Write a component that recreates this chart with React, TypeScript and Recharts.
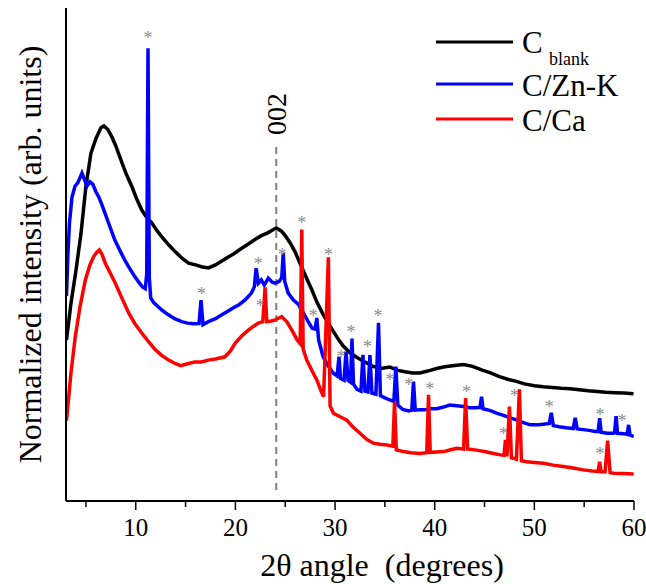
import {
  ComposedChart,
  Line,
  Scatter,
  XAxis,
  YAxis,
  ReferenceLine,
  Legend,
} from "recharts";

const FONT = '"Liberation Serif", "Times New Roman", serif';

// 2theta (deg), normalized intensity (arb. units)
const cBlank: [number, number][] = [
  [3.05, 4.4], [3.5, 5.4], [4.0, 6.3], [4.5, 7.3], [5.0, 8.6], [5.5, 9.5], [6.0, 9.9],
  [6.5, 10.2], [6.8, 10.25], [7.2, 10.15], [7.6, 9.95], [8.0, 9.7], [8.6, 9.25], [9.1, 8.9],
  [9.6, 8.6], [10.1, 8.25], [10.6, 7.95], [11.1, 7.75], [11.6, 7.6], [12.1, 7.4], [12.6, 7.22],
  [13.3, 7.0], [14.0, 6.8], [14.7, 6.62], [15.3, 6.5], [16.0, 6.45], [16.6, 6.4], [17.3, 6.37],
  [18.0, 6.45], [18.6, 6.55], [19.2, 6.65], [19.8, 6.75], [20.6, 6.9], [21.3, 7.02], [22.0, 7.15],
  [22.6, 7.25], [23.2, 7.32], [23.7, 7.4], [24.1, 7.46], [24.6, 7.38], [25.0, 7.25], [25.5, 7.05],
  [26.0, 6.8], [26.6, 6.42], [27.2, 6.05], [27.7, 5.75], [28.2, 5.42], [28.8, 5.1], [29.5, 4.78],
  [30.2, 4.47], [30.8, 4.24], [31.5, 4.05], [32.2, 3.92], [33.0, 3.8], [33.8, 3.68], [34.6, 3.62],
  [35.5, 3.66], [36.3, 3.57], [37.0, 3.53], [37.8, 3.5], [38.5, 3.5], [39.3, 3.55], [40.2, 3.62],
  [41.0, 3.67], [42.0, 3.7], [42.9, 3.73], [43.8, 3.68], [44.7, 3.58], [45.6, 3.5], [46.5, 3.4],
  [47.4, 3.32], [48.2, 3.27], [49.0, 3.2], [50.0, 3.15], [50.9, 3.12], [51.8, 3.1], [52.7, 3.08],
  [53.6, 3.07], [54.5, 3.04], [55.4, 3.01], [56.3, 2.99], [57.2, 2.97], [58.1, 2.96], [59.0, 2.95],
  [59.95, 2.93],
];

const cZnK: [number, number][] = [
  [3.05, 5.6], [3.2, 6.8], [3.35, 7.6], [3.6, 8.3], [3.9, 8.6], [4.2, 8.7], [4.6, 8.96], [4.9, 8.75],
  [5.1, 8.6], [5.4, 8.72], [5.7, 8.65], [6.0, 8.45], [6.3, 8.3], [6.6, 8.1], [6.9, 7.87], [7.4, 7.5],
  [7.9, 7.13], [8.4, 6.85], [8.9, 6.58], [9.4, 6.35], [9.9, 6.13], [10.3, 5.98], [10.7, 5.84],
  [10.95, 5.8], [11.1, 6.2], [11.23, 12.37], [11.36, 6.1], [11.5, 5.55], [11.8, 5.42], [12.2, 5.32],
  [12.6, 5.22], [13.2, 5.1], [13.9, 4.98], [14.6, 4.9], [15.2, 4.86], [15.8, 4.84], [16.35, 4.85],
  [16.55, 5.49], [16.75, 4.82], [17.3, 4.9], [18.0, 4.98], [18.6, 5.08], [19.2, 5.18], [19.8, 5.28],
  [20.4, 5.37], [21.0, 5.5], [21.6, 5.68], [21.9, 5.85], [22.08, 6.36], [22.3, 5.95], [22.6, 6.04],
  [22.9, 5.9], [23.3, 6.09], [23.7, 5.98], [24.0, 5.95], [24.4, 6.0], [24.65, 6.1], [24.8, 6.77],
  [24.95, 6.0], [25.3, 5.68], [25.8, 5.5], [26.3, 5.38], [26.8, 5.15], [27.3, 4.9], [27.7, 4.72],
  [28.0, 4.7], [28.17, 5.0], [28.35, 4.4], [28.8, 3.94], [29.3, 3.7], [29.8, 3.5], [30.2, 3.42],
  [30.4, 3.94], [30.55, 3.35], [30.9, 3.3], [31.1, 4.08], [31.3, 3.3], [31.55, 3.25], [31.7, 4.44],
  [31.85, 3.2], [32.2, 3.05], [32.6, 3.0], [32.8, 3.99], [33.0, 3.0], [33.3, 2.98], [33.5, 3.99],
  [33.7, 2.95], [34.1, 2.92], [34.36, 4.87], [34.55, 2.88], [35.0, 2.82], [35.5, 2.76], [35.9, 2.72],
  [36.1, 3.67], [36.3, 2.62], [36.8, 2.5], [37.4, 2.46], [37.7, 2.48], [37.87, 3.26], [38.05, 2.48],
  [38.5, 2.49], [39.0, 2.49], [39.6, 2.52], [40.2, 2.52], [40.8, 2.56], [41.5, 2.62], [42.2, 2.6],
  [42.9, 2.58], [43.5, 2.55], [44.2, 2.55], [44.55, 2.56], [44.7, 2.85], [44.85, 2.52], [45.6, 2.47],
  [46.2, 2.4], [46.9, 2.34], [47.6, 2.27], [48.25, 2.21], [48.9, 2.14], [49.6, 2.08], [50.3, 2.08],
  [50.9, 2.1], [51.5, 2.12], [51.7, 2.41], [51.9, 2.06], [52.5, 2.03], [53.2, 2.0], [53.9, 1.98],
  [54.1, 2.27], [54.3, 1.97], [54.9, 1.95], [55.5, 1.93], [56.1, 1.9], [56.4, 1.9], [56.55, 2.26],
  [56.7, 1.88], [57.3, 1.85], [57.9, 1.85], [58.05, 1.86], [58.2, 2.32], [58.35, 1.85], [58.95, 1.84],
  [59.3, 1.82], [59.46, 2.08], [59.6, 1.8], [59.97, 1.76],
];

const cCa: [number, number][] = [
  [3.05, 2.2], [3.5, 3.5], [3.93, 4.49], [4.4, 5.3], [4.94, 6.04], [5.4, 6.45], [5.78, 6.68],
  [6.1, 6.8], [6.34, 6.86], [6.6, 6.75], [6.95, 6.49], [7.4, 6.25], [7.95, 5.95], [8.6, 5.55],
  [9.3, 5.13], [9.9, 4.85], [10.6, 4.59], [11.3, 4.35], [11.97, 4.13], [12.6, 3.98], [13.3, 3.85],
  [14.0, 3.75], [14.5, 3.7], [15.2, 3.75], [15.95, 3.8], [16.6, 3.8], [17.26, 3.85], [18.0, 3.88],
  [18.96, 3.94], [19.5, 4.1], [19.97, 4.31], [20.6, 4.5], [21.3, 4.67], [21.8, 4.77], [22.3, 4.86],
  [22.75, 4.9], [22.98, 5.84], [23.15, 4.9], [23.6, 4.92], [24.0, 4.95], [24.65, 5.04], [25.2, 4.88],
  [25.66, 4.67], [26.2, 4.4], [26.5, 4.3], [26.66, 7.42], [26.8, 4.15], [27.16, 3.85], [27.7, 3.55],
  [28.17, 3.31], [28.6, 3.0], [28.85, 2.85], [29.33, 6.66], [29.5, 2.6], [29.84, 2.4], [30.5, 2.3],
  [31.18, 2.21], [31.8, 2.02], [32.5, 1.85], [33.2, 1.68], [33.85, 1.58], [34.5, 1.55], [35.2, 1.53],
  [35.8, 1.5], [35.97, 2.7], [36.15, 1.4], [36.87, 1.35], [37.6, 1.32], [38.5, 1.3], [39.2, 1.32],
  [39.38, 2.9], [39.55, 1.33], [40.2, 1.34], [40.9, 1.35], [41.6, 1.4], [42.2, 1.44], [42.9, 1.42],
  [43.1, 2.81], [43.3, 1.42], [44.2, 1.39], [45.0, 1.35], [45.9, 1.3], [46.6, 1.26], [46.95, 1.25],
  [47.1, 1.67], [47.25, 1.22], [47.5, 2.58], [47.7, 1.18], [47.9, 1.17], [48.2, 1.14], [48.5, 3.05],
  [48.7, 1.1], [49.26, 1.07], [50.0, 1.05], [50.9, 1.03], [51.9, 0.98], [52.9, 0.94], [53.9, 0.9],
  [54.9, 0.85], [55.8, 0.82], [56.4, 0.81], [56.55, 1.07], [56.7, 0.8], [57.1, 0.8], [57.35, 1.65],
  [57.6, 0.78], [57.95, 0.76], [58.9, 0.75], [59.97, 0.74],
];

// grey asterisks marking crystalline reflections
const starMarks: [number, number][] = [
  [11.23, 12.73], [16.6, 5.75], [22.3, 6.57], [22.5, 5.42], [24.7, 6.81], [26.66, 7.68],
  [27.8, 5.15], [29.33, 6.81], [30.6, 4.03], [31.6, 4.69], [33.25, 4.28], [34.3, 5.13],
  [35.5, 3.4], [37.4, 3.26], [39.5, 3.14], [43.2, 3.05], [46.9, 1.92], [48.0, 2.94],
  [51.5, 2.65], [56.6, 2.44], [58.8, 2.26], [56.6, 1.37],
];

const xTicks = [5, 10, 15, 20, 25, 30, 35, 40, 45, 50, 55, 60];
const yTicks = [1, 2, 3, 4, 5, 6, 7, 8, 9, 10, 11, 12, 13];
const peak002 = 24.1;

const toPoints = (arr: [number, number][]) => arr.map(([x, y]) => ({ x, y }));

function XTick(props: any) {
  const { x, y, payload } = props;
  const major = payload.value % 10 === 0;
  return (
    <g>
      <line x1={x} x2={x} y1={y} y2={y + (major ? 9 : 6)} stroke="#000" strokeWidth={1.5} />
      {major && (
        <text x={x} y={y + 35} textAnchor="middle" fontFamily={FONT} fontSize={25} fill="#000">
          {payload.value}
        </text>
      )}
    </g>
  );
}

function Star(props: any) {
  const { cx, cy } = props;
  return (
    <text x={cx} y={cy + 9} textAnchor="middle" fontFamily={FONT} fontSize={18} fill="#8c8c8c">
      *
    </text>
  );
}

function Label002(props: any) {
  const { viewBox } = props;
  const x = viewBox.x + 10;
  const y = viewBox.y - 31;
  return (
    <text x={x} y={y} transform={`rotate(-90 ${x} ${y})`} textAnchor="middle" fontFamily={FONT} fontSize={28} fill="#000">
      002
    </text>
  );
}

function LegendBox() {
  const rows = [
    { color: "#000000", y: 27 },
    { color: "#0000ff", y: 69 },
    { color: "#ff0000", y: 104 },
  ];
  return (
    <svg width={210} height={125} style={{ overflow: "visible" }}>
      {rows.map((r) => (
        <line key={r.y} x1={6} x2={83} y1={r.y} y2={r.y} stroke={r.color} strokeWidth={3} />
      ))}
      <text x={92} y={38} fontFamily={FONT} fontSize={31} fill="#000">C</text>
      <text x={119} y={50} fontFamily={FONT} fontSize={18} fill="#000">blank</text>
      <text x={92} y={81} fontFamily={FONT} fontSize={31} fill="#000">C/Zn-K</text>
      <text x={92} y={116} fontFamily={FONT} fontSize={31} fill="#000">C/Ca</text>
    </svg>
  );
}

export default function App() {
  return (
    <div style={{ position: "absolute", left: 0, top: 0, background: "#fff" }}>
      <ComposedChart width={646} height={584} margin={{ top: 8, right: 12, left: 0, bottom: 0 }}>
        <XAxis
          dataKey="x"
          type="number"
          domain={[3, 60]}
          ticks={xTicks}
          allowDataOverflow
          height={83}
          tickSize={0}
          tickMargin={0}
          tick={<XTick />}
          axisLine={{ stroke: "#000", strokeWidth: 2 }}
          label={{
            value: "2θ angle\u00A0 (degrees)",
            position: "center",
            dx: 32,
            dy: 22,
            style: { fontFamily: FONT, fontSize: 32, fill: "#000" },
          }}
        />
        <XAxis
          xAxisId="top"
          orientation="top"
          type="number"
          domain={[3, 60]}
          height={0}
          tick={false}
          tickLine={false}
          axisLine={{ stroke: "#000", strokeWidth: 2 }}
        />
        <YAxis
          type="number"
          domain={[0, 13.47]}
          ticks={yTicks}
          allowDataOverflow
          width={66}
          tickSize={9}
          tick={false}
          tickLine={{ stroke: "#000", strokeWidth: 1.5 }}
          axisLine={{ stroke: "#000", strokeWidth: 2 }}
          label={{
            value: "Normalized intensity (arb. units)",
            angle: -90,
            position: "center",
            dx: -3,
            style: { fontFamily: FONT, fontSize: 32, fill: "#000" },
          }}
        />
        <YAxis
          yAxisId="right"
          orientation="right"
          type="number"
          domain={[0, 13.47]}
          width={0}
          tick={false}
          tickLine={false}
          axisLine={{ stroke: "#000", strokeWidth: 2 }}
        />
        <ReferenceLine
          segment={[
            { x: peak002, y: 0.3 },
            { x: peak002, y: 9.73 },
          ]}
          stroke="#808080"
          strokeWidth={2}
          strokeDasharray="7 5"
          label={Label002}
        />
        <Line data={toPoints(cBlank)} dataKey="y" type="linear" stroke="#000000" strokeWidth={3.5} dot={false} isAnimationActive={false} />
        <Line data={toPoints(cZnK)} dataKey="y" type="linear" stroke="#0000ff" strokeWidth={3.5} dot={false} isAnimationActive={false} />
        <Line data={toPoints(cCa)} dataKey="y" type="linear" stroke="#ff0000" strokeWidth={3.5} dot={false} isAnimationActive={false} />
        <Scatter data={toPoints(starMarks)} dataKey="y" shape={<Star />} isAnimationActive={false} />
        <Legend
          layout="vertical"
          align="center"
          verticalAlign="middle"
          content={() => <LegendBox />}
          wrapperStyle={{ position: "absolute", left: 430, top: 15, width: 210, height: 125 }}
        />
      </ComposedChart>
    </div>
  );
}
